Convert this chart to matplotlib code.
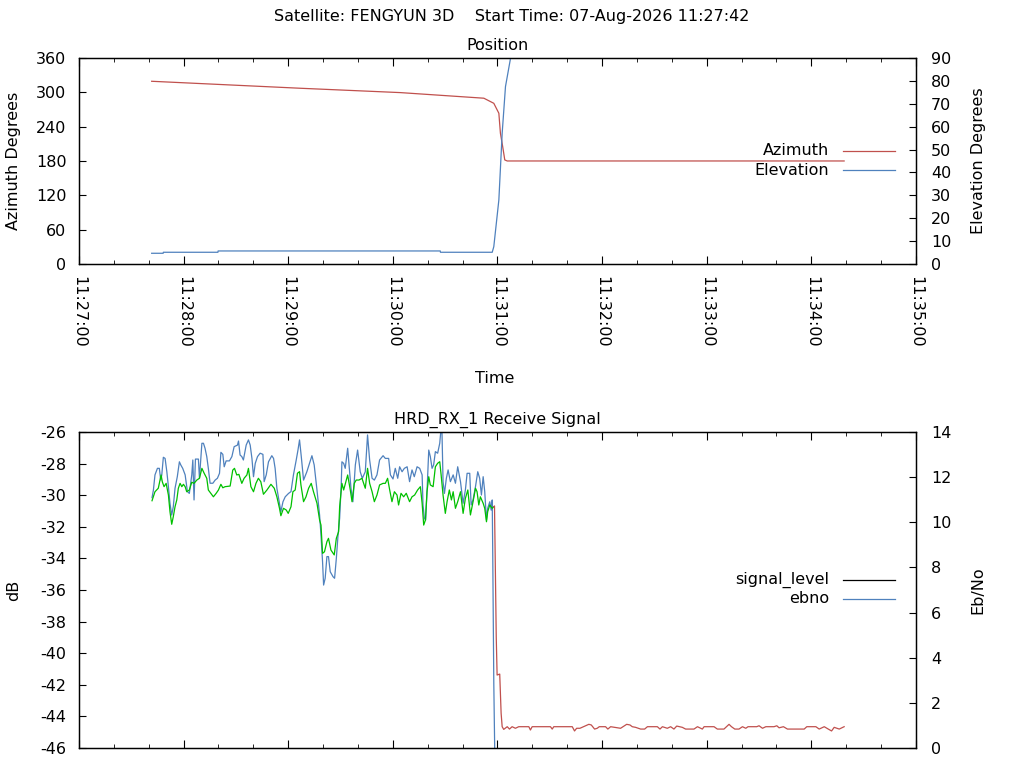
import matplotlib
matplotlib.use("Agg")
import matplotlib.pyplot as plt
from matplotlib.ticker import MultipleLocator

plt.rcParams['font.family'] = ['DejaVu Sans']
plt.rcParams['axes.unicode_minus'] = False
FS = 11.5

# ---- data (time in seconds after 11:27:00) ----
time_labels = ['11:27:00', '11:28:00', '11:29:00', '11:30:00', '11:31:00',
               '11:32:00', '11:33:00', '11:34:00', '11:35:00']

az_t = [41.7, 126.9, 184.3, 232.2, 237.9, 240.8, 241.7, 243.0, 244.2, 245.6, 438.8]
az_deg = [319.3, 307.1, 299.5, 289.7, 280.8, 263.4, 228.4, 205.0, 181.8, 180.0, 180.0]

el_t = [41.7, 48.3, 48.4, 79.7, 79.8, 207.2, 207.3, 237.0, 237.9, 240.8, 242.7, 244.6, 247.5, 250.0]
el_deg = [4.67, 4.67, 5.11, 5.11, 5.68, 5.68, 5.11, 5.11, 7.56, 27.96, 57.1, 77.5, 89.9, 99.0]

# signal level while locked (green)
sig_t_lock = [41.9, 43.6, 45.5, 47.1, 47.8, 48.8, 50.0, 51.3, 52.2, 53.2, 54.1, 55.1, 56.1, 57.0,
              58.0, 59.0, 59.9, 60.9, 61.8, 63.3, 64.7, 66.0, 67.6, 69.1, 70.5, 71.8, 73.3, 74.2,
              75.6, 77.1, 78.7, 80.0, 81.4, 82.5, 83.8, 86.7, 88.2, 89.2, 90.5, 91.7, 93.4, 94.7,
              96.3, 97.2, 98.6, 100.1, 101.5, 102.9, 104.3, 105.8, 107.8, 110.1, 112.0, 113.5,
              115.0, 115.8, 117.3, 118.9, 120.0, 121.6, 122.7, 124.0, 125.3, 126.5, 127.3, 128.8,
              130.2, 131.7, 133.2, 134.5, 136.5, 138.0, 138.8, 139.7, 140.8, 142.2, 143.1, 144.5,
              146.4, 147.6, 148.9, 149.5, 150.8, 151.8, 153.3, 154.1, 155.6, 156.6, 157.9, 159.0,
              160.6, 162.3, 164.2, 165.5, 166.7, 168.1, 169.4, 170.9, 172.4, 174.4, 175.7, 177.0,
              178.2, 179.5, 180.9, 182.4, 183.3, 184.7, 186.2, 187.7, 189.6, 191.0, 192.5, 194.2,
              195.8, 196.8, 197.7, 198.7, 199.6, 200.6, 201.5, 203.1, 204.4, 205.7, 206.9, 207.7,
              208.8, 210.1, 211.1, 212.4, 213.6, 214.6, 215.9, 217.2, 218.8, 220.3, 221.6, 223.0,
              224.5, 226.0, 227.4, 228.3, 229.3, 230.2, 231.8, 232.7, 233.7, 234.4, 235.6, 237.0,
              237.9]
sig_db_lock = [-30.35, -29.78, -29.56, -28.72, -29.15, -29.46, -29.25, -29.99, -31.04, -31.84,
               -31.36, -30.73, -30.30, -29.56, -29.25, -29.46, -29.31, -29.46, -29.78, -29.67,
               -29.18, -29.25, -29.04, -28.93, -28.30, -28.61, -28.93, -29.67, -29.88, -30.10,
               -29.88, -29.67, -29.31, -29.53, -29.46, -29.42, -28.41, -28.30, -28.72, -28.68,
               -29.25, -28.93, -28.72, -28.30, -29.46, -29.78, -29.25, -28.93, -29.15, -29.94,
               -29.67, -29.31, -29.56, -30.10, -30.83, -31.30, -30.83, -30.94, -31.15, -30.73,
               -29.78, -29.67, -28.61, -28.51, -29.35, -30.41, -30.10, -29.56, -29.25, -29.78,
               -30.51, -31.57, -31.89, -33.68, -33.58, -32.94, -32.73, -33.47, -33.78, -32.73,
               -32.31, -30.73, -29.25, -29.67, -29.04, -28.72, -29.67, -30.41, -29.25, -29.04,
               -29.04, -28.93, -29.56, -28.30, -29.25, -29.78, -30.41, -29.99, -29.35, -29.25,
               -29.25, -28.93, -29.67, -30.41, -29.78, -29.99, -30.62, -29.88, -30.10, -29.88,
               -30.41, -30.10, -29.99, -29.67, -29.46, -30.51, -31.89, -31.57, -29.78, -28.83,
               -29.35, -29.46, -28.20, -27.98, -27.88, -28.72, -29.99, -31.15, -30.41, -29.67,
               -30.30, -29.78, -30.83, -30.41, -29.78, -31.15, -30.20, -29.67, -31.25, -30.41,
               -29.56, -29.78, -30.62, -30.10, -30.51, -30.83, -31.68, -31.04, -30.62, -30.83,
               -30.73]

# signal level after loss of lock (red)
sig_t_loss = [237.9, 238.3, 238.7, 239.3, 239.8, 241.3, 242.1, 242.7, 243.6, 245.6, 246.9, 248.4,
              250.3, 252.2, 258.0, 258.9, 259.9, 270.4, 271.4, 272.3, 282.9, 284.2, 285.4, 287.3,
              292.4, 293.8, 295.7, 297.2, 298.4, 302.0, 303.3, 304.9, 310.6, 314.1, 316.0, 317.3,
              319.2, 322.1, 324.4, 326.0, 331.7, 333.2, 334.6, 337.4, 339.3, 341.2, 342.8, 346.0,
              347.9, 352.7, 354.7, 357.5, 358.5, 364.2, 366.1, 369.9, 372.8, 374.2, 376.1, 378.5,
              380.5, 382.4, 383.7, 388.7, 390.0, 392.0, 393.9, 398.6, 400.2, 401.5, 404.0, 406.3,
              415.9, 417.4, 422.6, 424.5, 427.4, 429.7, 431.6, 433.1, 436.0, 438.8]
sig_db_loss = [-30.73, -30.68, -33.89, -38.96, -41.38, -41.32, -43.80, -44.65, -44.82, -44.65,
               -44.80, -44.65, -44.75, -44.65, -44.65, -44.86, -44.65, -44.65, -44.80, -44.65,
               -44.65, -44.92, -44.75, -44.75, -44.50, -44.54, -44.80, -44.75, -44.65, -44.65,
               -44.80, -44.65, -44.75, -44.50, -44.54, -44.65, -44.69, -44.80, -44.80, -44.65,
               -44.65, -44.80, -44.65, -44.75, -44.65, -44.80, -44.61, -44.69, -44.80, -44.80,
               -44.65, -44.80, -44.65, -44.65, -44.80, -44.80, -44.50, -44.65, -44.80, -44.80,
               -44.65, -44.75, -44.65, -44.65, -44.59, -44.75, -44.65, -44.65, -44.59, -44.72,
               -44.65, -44.80, -44.80, -44.65, -44.65, -44.80, -44.65, -44.80, -44.92, -44.69,
               -44.80, -44.65]

ebno_t = [41.9, 42.7, 43.6, 45.0, 46.1, 46.9, 47.5, 48.4, 49.4, 50.4, 51.3, 52.2, 53.2, 54.1,
          55.1, 56.4, 57.6, 58.4, 59.5, 60.9, 62.2, 63.3, 64.7, 65.3, 66.0, 66.8, 68.5, 69.1,
          70.5, 71.4, 72.3, 73.3, 74.2, 75.2, 76.8, 78.1, 79.4, 80.6, 81.4, 82.5, 83.3, 84.4,
          86.3, 87.7, 89.0, 90.9, 91.5, 92.4, 93.4, 94.3, 95.9, 97.2, 98.2, 99.2, 100.1, 101.1,
          102.4, 103.9, 105.5, 106.2, 107.4, 108.7, 110.6, 111.6, 112.5, 113.5, 115.0, 115.8,
          117.0, 118.3, 120.2, 121.6, 123.0, 124.6, 125.6, 126.5, 127.5, 128.8, 130.7, 132.2,
          133.6, 134.9, 136.5, 138.0, 138.8, 139.7, 140.3, 141.2, 142.2, 143.1, 144.1, 145.7,
          146.6, 147.6, 148.5, 149.5, 150.4, 150.8, 151.8, 152.7, 154.1, 155.2, 156.0, 157.1,
          158.5, 159.8, 161.3, 162.5, 164.2, 165.5, 166.7, 168.1, 169.4, 170.9, 172.4, 174.4,
          175.7, 177.6, 178.6, 180.1, 181.4, 182.8, 183.9, 185.3, 186.6, 188.2, 189.6, 191.0,
          192.3, 193.9, 195.4, 196.8, 197.3, 198.1, 198.8, 199.6, 200.6, 201.5, 202.5, 203.4,
          204.4, 205.7, 206.9, 207.7, 208.2, 208.8, 209.6, 210.7, 211.7, 213.0, 214.6, 215.9,
          217.2, 218.8, 220.3, 221.6, 222.6, 224.1, 224.9, 226.0, 227.4, 228.7, 229.8, 230.8,
          231.8, 232.7, 233.7, 234.4, 235.6, 236.4, 237.0, 237.3, 237.9, 238.5]
ebno_val = [11.09, 11.43, 12.10, 12.39, 12.39, 11.87, 12.10, 12.88, 12.83, 12.24, 11.58, 10.84,
            10.32, 10.69, 11.51, 12.02, 12.68, 12.54, 12.39, 12.10, 11.36, 11.28, 12.10, 12.76,
            10.99, 12.80, 12.80, 11.95, 13.50, 13.50, 13.28, 12.91, 12.39, 11.73, 11.73, 11.87,
            11.95, 12.17, 13.10, 13.01, 12.46, 12.72, 12.72, 12.91, 13.35, 13.42, 13.60, 12.98,
            12.91, 12.76, 13.42, 13.65, 13.42, 12.83, 12.02, 12.61, 12.91, 13.06, 13.01, 11.80,
            12.10, 12.68, 12.95, 12.83, 12.39, 11.51, 10.84, 10.47, 10.91, 11.13, 11.28, 11.36,
            12.10, 12.76, 13.20, 13.65, 12.91, 11.87, 12.24, 12.61, 12.95, 12.54, 11.43, 10.32,
            9.44, 8.25, 7.22, 7.52, 8.48, 8.48, 7.81, 7.59, 7.52, 8.40, 9.36, 10.18, 11.65, 12.68,
            12.61, 12.39, 13.28, 12.24, 11.51, 10.91, 12.54, 13.20, 12.24, 11.95, 12.24, 13.87,
            12.76, 11.95, 11.87, 12.10, 12.76, 12.95, 12.83, 12.83, 12.10, 11.92, 12.39, 11.95,
            12.46, 12.24, 12.39, 12.46, 11.80, 12.32, 12.02, 12.46, 12.39, 12.10, 10.77, 10.18,
            10.10, 11.36, 13.20, 12.91, 12.39, 12.54, 13.13, 13.06, 13.50, 14.20, 13.94, 11.80,
            11.28, 11.95, 12.32, 11.80, 12.10, 11.73, 12.46, 11.80, 10.84, 11.43, 12.17, 12.17,
            10.77, 10.99, 11.58, 12.24, 11.95, 11.21, 12.02, 11.36, 10.10, 10.62, 10.91, 10.54,
            10.99, 8.55, 2.87, -0.5]

RED = '#c0504d'
BLUE = '#4f81bd'
GREEN = '#00c000'
LW = 0.9

fig = plt.figure(figsize=(10.24, 7.68), dpi=100)


def style_axes(ax, ax2):
    ax.set_xlim(0, 480)
    ax.xaxis.set_major_locator(MultipleLocator(60))
    ax.xaxis.set_minor_locator(MultipleLocator(20))
    ax.tick_params(axis='x', which='both', direction='in', top=True, bottom=True,
                   labelsize=FS, pad=9)
    ax.tick_params(axis='x', which='major', length=6)
    ax.tick_params(axis='x', which='minor', length=3)
    ax.tick_params(axis='y', direction='in', length=5, labelsize=FS, pad=9, right=False)
    ax2.tick_params(axis='y', direction='in', length=5, labelsize=FS, pad=11, left=False)
    ax2.tick_params(axis='x', which='both', top=False, bottom=False)
    for a in (ax, ax2):
        for s in a.spines.values():
            s.set_linewidth(0.9)


def legend_rows(ax, names, colors, ys):
    for name, col, y in zip(names, colors, ys):
        ax.text(0.896, y, name, transform=ax.transAxes, ha='right', va='center', fontsize=FS)
        ax.plot([0.913, 0.975], [y, y], transform=ax.transAxes, color=col, lw=LW,
                clip_on=False)


# ---- Position ----
ax1 = fig.add_axes([0.0771, 0.6563, 0.8174, 0.2682])
ax1r = ax1.twinx()
ax1.plot(az_t, az_deg, color=RED, lw=LW)
ax1r.plot(el_t, el_deg, color=BLUE, lw=LW)
ax1.set_ylim(0, 360)
ax1.set_yticks(range(0, 361, 60))
ax1r.set_ylim(0, 90)
ax1r.set_yticks(range(0, 91, 10))
style_axes(ax1, ax1r)
ax1.set_xticks(range(0, 481, 60))
ax1.set_xticklabels(time_labels, rotation=-90, ha='center', va='top')
legend_rows(ax1r, ['Azimuth', 'Elevation'], [RED, BLUE], [0.550, 0.456])

# ---- Receive signal ----
ax2 = fig.add_axes([0.0771, 0.026, 0.8174, 0.4115])
ax2r = ax2.twinx()
ax2.plot(sig_t_lock, sig_db_lock, color=GREEN, lw=LW, zorder=3)
ax2.plot(sig_t_loss, sig_db_loss, color=RED, lw=LW, zorder=3)
ax2r.plot(ebno_t, ebno_val, color=BLUE, lw=LW, zorder=1)
ax2.set_zorder(ax2r.get_zorder() + 1)
ax2.patch.set_visible(False)
ax2.set_ylim(-46, -26)
ax2.set_yticks(range(-46, -25, 2))
ax2r.set_ylim(0, 14)
ax2r.set_yticks(range(0, 15, 2))
style_axes(ax2, ax2r)
ax2.tick_params(axis='x', labelbottom=False)
legend_rows(ax2r, ['signal_level', 'ebno'], ['black', BLUE], [0.532, 0.472])

# ---- texts ----
fig.text(0.5, 1 - 17 / 768, 'Satellite: FENGYUN 3D    Start Time: 07-Aug-2026 11:27:42',
         ha='center', va='center', fontsize=FS)
fig.text(497 / 1024, 1 - 46 / 768, 'Position', ha='center', va='center', fontsize=FS)
fig.text(497 / 1024, 1 - 420 / 768, 'HRD_RX_1 Receive Signal', ha='center', va='center',
         fontsize=FS)
fig.text(495 / 1024, 1 - 379 / 768, 'Time', ha='center', va='center', fontsize=FS)
fig.text(14 / 1024, 1 - 161 / 768, 'Azimuth Degrees', rotation=90, ha='center', va='center',
         fontsize=FS)
fig.text(978 / 1024, 1 - 161 / 768, 'Elevation Degrees', rotation=90, ha='center',
         va='center', fontsize=FS)
fig.text(14 / 1024, 1 - 590 / 768, 'dB', rotation=90, ha='center', va='center', fontsize=FS)
fig.text(978 / 1024, 1 - 590 / 768, 'Eb/No', rotation=90, ha='center', va='center',
         fontsize=FS)

fig.savefig('out.png', dpi=100)
